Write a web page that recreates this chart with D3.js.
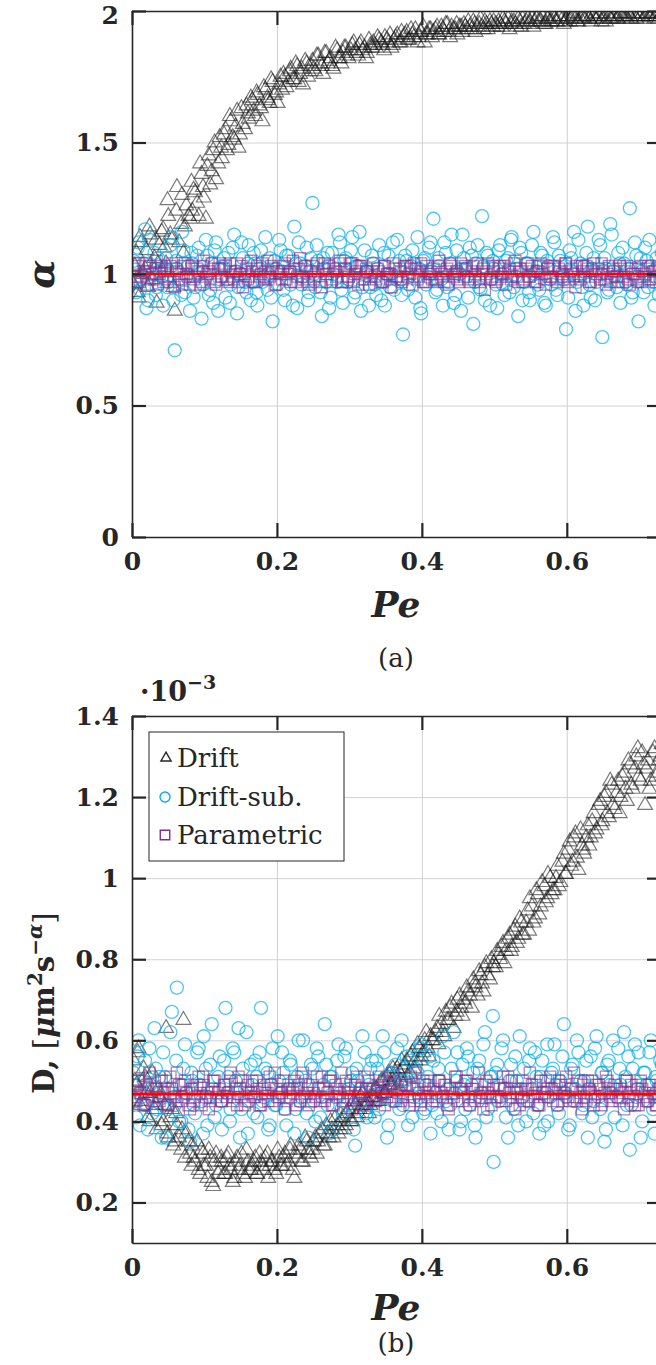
<!DOCTYPE html>
<html>
<head>
<meta charset="utf-8">
<style>
    body {
        margin: 0;
        background-color: #fff;
    }
    text {
        font-family: "DejaVu Serif", serif;
        fill: #262626;
    }
    .tick text {
        font-size: 25px;
        font-weight: bold;
    }
</style>
</head>
<body>
<script src="https://d3js.org/d3.v7.min.js"></script>
<script>
    // Peclet number of each run (shared by both panels), two batches of runs
    var pe = [
        0.002, 0.006, 0.009, 0.013, 0.018, 0.022, 0.025, 0.031, 0.034, 0.038,
        0.043, 0.047, 0.050, 0.055, 0.059, 0.062, 0.068, 0.071, 0.075, 0.080,
        0.083, 0.087, 0.092, 0.096, 0.099, 0.104, 0.108, 0.112, 0.116, 0.121,
        0.124, 0.129, 0.133, 0.136, 0.141, 0.145, 0.149, 0.153, 0.158, 0.161,
        0.166, 0.170, 0.173, 0.178, 0.182, 0.187, 0.190, 0.194, 0.199, 0.203,
        0.207, 0.211, 0.216, 0.219, 0.224, 0.228, 0.232, 0.236, 0.241, 0.244,
        0.249, 0.253, 0.257, 0.262, 0.266, 0.270, 0.274, 0.278, 0.283, 0.287,
        0.291, 0.295, 0.299, 0.304, 0.308, 0.312, 0.316, 0.321, 0.324, 0.329,
        0.333, 0.337, 0.341, 0.346, 0.349, 0.354, 0.358, 0.362, 0.366, 0.371,
        0.374, 0.379, 0.383, 0.387, 0.391, 0.396, 0.399, 0.404, 0.408, 0.412,
        0.416, 0.421, 0.424, 0.429, 0.433, 0.437, 0.441, 0.446, 0.449, 0.454,
        0.458, 0.462, 0.466, 0.471, 0.474, 0.479, 0.483, 0.487, 0.491, 0.496,
        0.499, 0.504, 0.508, 0.512, 0.516, 0.521, 0.524, 0.529, 0.533, 0.537,
        0.541, 0.546, 0.549, 0.554, 0.558, 0.562, 0.566, 0.571, 0.574, 0.579,
        0.583, 0.587, 0.591, 0.596, 0.599, 0.604, 0.608, 0.612, 0.616, 0.621,
        0.624, 0.629, 0.633, 0.637, 0.641, 0.646, 0.649, 0.654, 0.658, 0.662,
        0.666, 0.671, 0.674, 0.679, 0.683, 0.687, 0.691, 0.696, 0.699, 0.704,
        0.708, 0.712, 0.716, 0.721, 0.724, 0.729,
        0.004, 0.008, 0.011, 0.016, 0.020, 0.024, 0.028, 0.033, 0.036, 0.041,
        0.045, 0.049, 0.053, 0.057, 0.061, 0.065, 0.069, 0.073, 0.078, 0.082,
        0.085, 0.090, 0.094, 0.098, 0.102, 0.106, 0.110, 0.114, 0.119, 0.123,
        0.127, 0.131, 0.135, 0.139, 0.143, 0.147, 0.151, 0.156, 0.160, 0.164,
        0.168, 0.172, 0.176, 0.180, 0.184, 0.188, 0.192, 0.197, 0.201, 0.205,
        0.209, 0.213, 0.218, 0.222, 0.226, 0.230, 0.234, 0.239, 0.243, 0.247,
        0.251, 0.255, 0.260, 0.264, 0.268, 0.272, 0.276, 0.281, 0.285, 0.289,
        0.293, 0.297, 0.302, 0.306, 0.310, 0.314, 0.318, 0.323, 0.327, 0.331,
        0.335, 0.339, 0.344, 0.348, 0.352, 0.356, 0.360, 0.364, 0.369, 0.372,
        0.377, 0.381, 0.385, 0.389, 0.394, 0.398, 0.402, 0.406, 0.410, 0.414,
        0.419, 0.423, 0.427, 0.431, 0.435, 0.439, 0.444, 0.448, 0.452, 0.456,
        0.460, 0.464, 0.469, 0.473, 0.477, 0.481, 0.485, 0.489, 0.494, 0.498,
        0.502, 0.506, 0.510, 0.514, 0.519, 0.523, 0.527, 0.531, 0.535, 0.539,
        0.544, 0.548, 0.552, 0.556, 0.560, 0.564, 0.569, 0.573, 0.577, 0.581,
        0.585, 0.589, 0.594, 0.598, 0.602, 0.606, 0.610, 0.614, 0.619, 0.623,
        0.627, 0.631, 0.635, 0.639, 0.644, 0.648, 0.652, 0.656, 0.660, 0.664,
        0.669, 0.673, 0.677, 0.681, 0.685, 0.689, 0.694, 0.698, 0.702, 0.706,
        0.710, 0.714, 0.719, 0.723, 0.727, 0.731
    ];

    // (a) anomalous exponent alpha
    var alphaDrift = [
        0.96, 1.08, 0.91, 1.12, 1.02, 0.95, 1.15, 1.06, 0.89, 1.11,
        1.17, 1.04, 1.22, 1.13, 0.86, 1.33, 1.19, 1.08, 1.26, 1.21,
        1.24, 1.31, 1.22, 1.38, 1.29, 1.41, 1.34, 1.47, 1.36, 1.52,
        1.44, 1.55, 1.49, 1.58, 1.51, 1.62, 1.53, 1.57, 1.64, 1.59,
        1.66, 1.60, 1.68, 1.63, 1.71, 1.67, 1.65, 1.73, 1.69, 1.72,
        1.70, 1.75, 1.73, 1.78, 1.74, 1.79, 1.76, 1.72, 1.80, 1.77,
        1.81, 1.77, 1.83, 1.79, 1.84, 1.80, 1.82, 1.78, 1.85, 1.82,
        1.84, 1.86, 1.82, 1.87, 1.85, 1.83, 1.88, 1.86, 1.84, 1.87,
        1.88, 1.86, 1.89, 1.87, 1.90, 1.88, 1.86, 1.89, 1.91, 1.88,
        1.90, 1.92, 1.89, 1.91, 1.93, 1.90, 1.92, 1.88, 1.91, 1.93,
        1.92, 1.94, 1.91, 1.93, 1.95, 1.92, 1.94, 1.93, 1.91, 1.94,
        1.95, 1.93, 1.94, 1.96, 1.92, 1.95, 1.94, 1.96, 1.93, 1.95,
        1.96, 1.94, 1.95, 1.97, 1.95, 1.93, 1.96, 1.95, 1.97, 1.94,
        1.95, 1.97, 1.96, 1.94, 1.97, 1.96, 1.98, 1.95, 1.97, 1.96,
        1.97, 1.96, 1.98, 1.95, 1.97, 1.96, 1.98, 1.97, 1.96, 1.98,
        1.97, 1.98, 1.96, 1.98, 1.97, 1.99, 1.97, 1.96, 1.98, 1.97,
        1.98, 1.97, 1.99, 1.98, 1.97, 1.98, 1.99, 1.97, 1.98, 1.99,
        1.98, 1.99, 1.98, 1.97, 1.99, 1.98,
        1.03, 0.93, 1.14, 1.00, 1.09, 1.18, 0.98, 1.13, 1.04, 1.16,
        1.10, 1.28, 1.15, 0.95, 1.24, 1.12, 1.30, 1.18, 1.22, 1.35,
        1.32, 1.27, 1.42, 1.33, 1.21, 1.45, 1.39, 1.50, 1.42, 1.48,
        1.53, 1.47, 1.60, 1.52, 1.56, 1.48, 1.63, 1.55, 1.61, 1.67,
        1.62, 1.69, 1.64, 1.58, 1.70, 1.66, 1.74, 1.68, 1.65, 1.75,
        1.76, 1.71, 1.77, 1.74, 1.80, 1.73, 1.78, 1.81, 1.75, 1.79,
        1.78, 1.83, 1.80, 1.76, 1.84, 1.81, 1.79, 1.86, 1.82, 1.80,
        1.86, 1.83, 1.85, 1.88, 1.84, 1.87, 1.85, 1.82, 1.89, 1.86,
        1.87, 1.90, 1.88, 1.85, 1.89, 1.91, 1.87, 1.90, 1.88, 1.92,
        1.91, 1.89, 1.93, 1.90, 1.88, 1.92, 1.94, 1.91, 1.93, 1.90,
        1.93, 1.91, 1.94, 1.92, 1.95, 1.90, 1.93, 1.95, 1.94, 1.92,
        1.94, 1.96, 1.93, 1.95, 1.94, 1.97, 1.93, 1.95, 1.96, 1.94,
        1.95, 1.96, 1.94, 1.96, 1.97, 1.95, 1.96, 1.94, 1.96, 1.97,
        1.96, 1.95, 1.97, 1.96, 1.98, 1.96, 1.95, 1.97, 1.96, 1.98,
        1.96, 1.98, 1.97, 1.96, 1.98, 1.97, 1.99, 1.96, 1.97, 1.98,
        1.98, 1.97, 1.99, 1.97, 1.98, 1.96, 1.98, 1.99, 1.97, 1.98,
        1.97, 1.99, 1.98, 1.98, 1.99, 1.97, 1.98, 1.99, 1.98, 1.97,
        1.99, 1.98, 1.99, 1.98, 1.97, 1.99
    ];
    var alphaSub = [
        1.05, 0.93, 1.12, 0.98, 1.17, 0.90, 1.03, 1.08, 0.95, 1.01,
        0.88, 1.06, 0.97, 1.14, 0.71, 1.02, 0.92, 1.09, 0.99, 0.86,
        1.04, 0.95, 1.10, 0.83, 1.01, 1.07, 0.94, 0.89, 1.12, 0.98,
        1.03, 0.91, 1.08, 0.96, 1.15, 0.85, 1.00, 1.06, 0.93, 1.11,
        0.97, 1.04, 0.88, 1.09, 0.99, 0.94, 1.06, 0.82, 1.02, 1.13,
        1.01, 0.90, 1.07, 0.96, 1.18, 0.87, 1.04, 0.99, 1.10, 0.93,
        1.27, 0.95, 1.05, 0.84, 1.02, 1.08, 0.91, 1.00, 0.97, 1.12,
        0.89, 1.06, 0.98, 1.14, 0.93, 1.03, 0.86, 1.09, 1.01, 0.95,
        1.04, 0.92, 1.11, 0.97, 0.88, 1.07, 1.00, 0.94, 1.13, 0.98,
        0.77, 1.05, 0.96, 1.09, 0.91, 1.02, 0.85, 1.06, 0.99, 1.12,
        1.21, 0.94, 1.03, 0.88, 1.08, 0.97, 1.15, 0.92, 1.01, 0.86,
        1.06, 0.99, 1.10, 0.81, 1.04, 0.95, 1.22, 0.90, 1.07, 0.98,
        1.02, 0.87, 1.11, 0.96, 1.05, 0.93, 1.14, 0.99, 0.84, 1.08,
        0.97, 1.04, 0.90, 1.16, 1.01, 0.94, 1.07, 0.88, 1.03, 0.96,
        1.12, 0.92, 1.05, 0.98, 0.79, 1.09, 1.00, 0.86, 1.13, 0.95,
        1.03, 1.18, 0.91, 1.06, 0.97, 1.11, 0.76, 1.02, 0.94, 1.15,
        0.99, 1.08, 0.89, 1.04, 0.96, 1.25, 0.93, 1.07, 0.82, 1.01,
        1.10, 0.95, 1.03, 0.88, 1.06, 0.98,
        0.97, 1.10, 0.94, 1.04, 0.87, 1.13, 1.00, 0.92, 1.06, 0.99,
        1.02, 0.95, 1.11, 0.90, 1.05, 0.98, 1.16, 0.93, 1.03, 1.08,
        0.91, 1.07, 1.00, 0.96, 1.13, 0.92, 1.04, 1.09, 0.86, 1.02,
        1.06, 0.98, 0.89, 1.10, 1.01, 0.95, 1.12, 0.97, 1.04, 0.90,
        1.08, 0.93, 1.02, 0.97, 1.14, 1.00, 0.91, 1.05, 0.96, 1.09,
        0.94, 1.07, 1.01, 0.88, 1.04, 1.12, 0.96, 1.03, 0.90, 1.06,
        1.00, 1.11, 0.93, 1.06, 0.97, 0.87, 1.08, 1.02, 1.15, 0.94,
        1.05, 0.97, 1.09, 0.91, 1.03, 1.16, 0.95, 1.01, 0.88, 1.07,
        0.96, 1.02, 0.90, 1.08, 1.00, 0.95, 1.12, 0.98, 1.05, 0.92,
        1.07, 0.94, 1.03, 0.99, 1.14, 0.87, 1.05, 0.96, 1.10, 1.01,
        0.93, 1.06, 0.98, 1.12, 0.95, 1.04, 0.89, 1.09, 1.00, 1.15,
        1.02, 0.91, 1.07, 0.97, 1.11, 0.94, 1.03, 1.08, 0.88, 1.05,
        0.96, 1.09, 1.00, 0.92, 1.06, 1.13, 0.95, 1.02, 1.10, 0.90,
        1.04, 0.93, 1.11, 1.00, 0.96, 1.08, 0.89, 1.05, 0.98, 1.14,
        0.94, 1.07, 0.99, 1.03, 0.91, 1.06, 1.16, 0.97, 1.04, 0.88,
        1.08, 0.96, 1.02, 0.90, 1.13, 1.00, 1.06, 0.93, 1.19, 1.01,
        0.95, 1.04, 1.10, 0.97, 1.02, 0.91, 1.12, 0.99, 1.06, 0.93,
        1.05, 1.13, 0.97, 1.02, 0.92, 1.08
    ];
    var alphaParam = [
        1.02, 0.97, 1.04, 0.99, 1.01, 0.96, 1.03, 0.98, 1.05, 1.00,
        0.97, 1.02, 0.99, 1.04, 0.95, 1.01, 0.98, 1.03, 1.00, 0.96,
        1.03, 0.99, 1.01, 0.97, 1.05, 1.00, 0.98, 1.02, 0.96, 1.04,
        0.99, 1.03, 0.97, 1.01, 0.98, 1.04, 1.00, 0.95, 1.02, 0.99,
        1.01, 0.97, 1.03, 1.00, 0.98, 1.05, 0.99, 1.02, 0.96, 1.01,
        0.98, 1.04, 1.00, 0.97, 1.02, 0.99, 1.06, 0.98, 1.01, 0.96,
        1.03, 0.99, 1.01, 0.95, 1.04, 1.00, 0.97, 1.02, 0.99, 1.05,
        0.97, 1.02, 0.99, 1.04, 1.00, 0.96, 1.03, 0.98, 1.01, 0.99,
        1.04, 0.98, 1.01, 0.97, 1.03, 1.00, 0.95, 1.02, 0.99, 1.01,
        0.98, 1.03, 1.00, 0.96, 1.02, 0.99, 1.04, 0.97, 1.01, 1.00,
        1.02, 0.97, 1.05, 0.99, 1.01, 0.96, 1.03, 1.00, 0.98, 1.04,
        0.99, 1.02, 0.97, 1.03, 1.00, 0.98, 1.01, 0.94, 1.04, 0.99,
        1.01, 0.98, 1.03, 1.00, 0.96, 1.02, 0.99, 1.05, 0.97, 1.01,
        0.98, 1.04, 0.99, 1.01, 0.97, 1.03, 1.00, 0.96, 1.02, 0.99,
        1.03, 0.97, 1.01, 0.99, 1.04, 0.98, 1.02, 0.95, 1.00, 1.03,
        0.99, 1.02, 0.97, 1.04, 1.00, 0.98, 1.01, 0.96, 1.03, 0.99,
        1.01, 0.97, 1.02, 0.99, 1.03, 0.96, 1.00, 0.98, 1.02, 0.97,
        1.00, 1.03, 0.98, 1.01, 0.99, 1.02,
        0.99, 1.03, 0.97, 1.01, 1.04, 0.98, 1.00, 1.02, 0.96, 1.03,
        1.01, 0.98, 1.03, 0.97, 1.02, 1.00, 0.96, 1.04, 0.99, 1.02,
        0.98, 1.02, 0.96, 1.03, 0.99, 1.01, 1.04, 0.97, 1.02, 0.99,
        1.02, 0.98, 1.04, 0.99, 1.01, 0.97, 1.03, 1.00, 0.98, 1.05,
        0.97, 1.02, 0.99, 1.04, 1.01, 0.98, 1.03, 0.96, 1.01, 1.00,
        1.03, 0.98, 1.01, 1.05, 0.97, 1.02, 0.99, 1.03, 0.97, 1.01,
        0.98, 1.04, 0.97, 1.02, 1.00, 1.03, 0.98, 1.01, 1.04, 0.97,
        1.02, 0.99, 1.04, 0.97, 1.01, 1.03, 0.98, 1.02, 0.96, 1.01,
        0.99, 1.02, 0.97, 1.03, 1.00, 0.98, 1.04, 0.99, 1.02, 0.97,
        1.03, 0.99, 1.02, 1.04, 0.98, 1.01, 0.97, 1.03, 1.00, 0.98,
        0.98, 1.03, 1.00, 0.97, 1.02, 1.04, 0.99, 1.01, 0.97, 1.02,
        1.03, 0.98, 1.01, 0.99, 1.04, 0.97, 1.02, 1.00, 0.98, 1.03,
        0.97, 1.02, 0.99, 1.03, 1.01, 0.98, 1.04, 0.99, 1.02, 0.97,
        1.02, 0.99, 1.03, 0.97, 1.01, 1.04, 0.98, 1.02, 0.99, 1.03,
        0.98, 1.02, 1.00, 1.04, 0.97, 1.01, 0.99, 1.03, 0.98, 1.01,
        1.03, 0.97, 1.01, 0.99, 1.02, 1.04, 0.98, 1.00, 0.97, 1.02,
        0.99, 1.03, 0.97, 1.01, 0.98, 1.02, 1.00, 0.97, 1.03, 0.99,
        1.02, 0.98, 1.01, 0.97, 1.03, 1.00
    ];

    // (b) diffusion coefficient, in units of 1e-3
    var dDrift = [
        0.55, 0.49, 0.58, 0.45, 0.51, 0.41, 0.47, 0.43, 0.38, 0.46,
        0.40, 0.63, 0.36, 0.43, 0.35, 0.39, 0.33, 0.65, 0.37, 0.32,
        0.34, 0.30, 0.28, 0.33, 0.29, 0.26, 0.31, 0.24, 0.32, 0.28,
        0.30, 0.27, 0.32, 0.28, 0.26, 0.31, 0.29, 0.27, 0.33, 0.28,
        0.29, 0.31, 0.27, 0.30, 0.28, 0.32, 0.29, 0.30, 0.27, 0.31,
        0.29, 0.32, 0.30, 0.34, 0.26, 0.31, 0.33, 0.30, 0.35, 0.32,
        0.33, 0.36, 0.35, 0.38, 0.34, 0.37, 0.40, 0.36, 0.39, 0.38,
        0.41, 0.39, 0.43, 0.40, 0.44, 0.42, 0.46, 0.43, 0.45, 0.44,
        0.46, 0.48, 0.45, 0.50, 0.47, 0.52, 0.49, 0.51, 0.53, 0.50,
        0.53, 0.55, 0.52, 0.57, 0.55, 0.58, 0.56, 0.60, 0.58, 0.61,
        0.60, 0.63, 0.66, 0.62, 0.67, 0.65, 0.69, 0.66, 0.70, 0.68,
        0.70, 0.73, 0.71, 0.75, 0.73, 0.77, 0.74, 0.78, 0.76, 0.80,
        0.79, 0.82, 0.80, 0.84, 0.82, 0.86, 0.83, 0.88, 0.85, 0.89,
        0.86, 0.92, 0.95, 0.89, 0.97, 0.91, 0.99, 0.94, 1.01, 0.96,
        0.97, 1.03, 0.99, 1.06, 1.01, 1.09, 1.04, 1.11, 1.02, 1.08,
        1.06, 1.13, 1.10, 1.16, 1.12, 1.19, 1.14, 1.21, 1.15, 1.23,
        1.17, 1.24, 1.20, 1.26, 1.19, 1.28, 1.22, 1.30, 1.25, 1.31,
        1.18, 1.29, 1.24, 1.32, 1.26, 1.30,
        0.50, 0.57, 0.44, 0.53, 0.47, 0.40, 0.52, 0.44, 0.48, 0.39,
        0.44, 0.37, 0.41, 0.34, 0.42, 0.36, 0.38, 0.31, 0.35, 0.29,
        0.31, 0.35, 0.27, 0.32, 0.29, 0.33, 0.25, 0.30, 0.27, 0.31,
        0.27, 0.31, 0.29, 0.25, 0.30, 0.28, 0.32, 0.26, 0.30, 0.28,
        0.30, 0.27, 0.32, 0.29, 0.31, 0.26, 0.30, 0.28, 0.33, 0.29,
        0.31, 0.29, 0.33, 0.28, 0.32, 0.34, 0.30, 0.36, 0.33, 0.31,
        0.35, 0.32, 0.37, 0.34, 0.39, 0.36, 0.38, 0.41, 0.37, 0.40,
        0.38, 0.42, 0.40, 0.45, 0.41, 0.43, 0.47, 0.44, 0.42, 0.46,
        0.48, 0.45, 0.50, 0.47, 0.51, 0.49, 0.53, 0.48, 0.52, 0.55,
        0.54, 0.51, 0.56, 0.53, 0.59, 0.55, 0.57, 0.62, 0.56, 0.60,
        0.62, 0.59, 0.64, 0.61, 0.65, 0.68, 0.63, 0.67, 0.71, 0.66,
        0.69, 0.72, 0.68, 0.74, 0.71, 0.76, 0.72, 0.79, 0.75, 0.78,
        0.78, 0.81, 0.83, 0.79, 0.85, 0.82, 0.87, 0.84, 0.90, 0.86,
        0.89, 0.87, 0.93, 0.90, 0.96, 0.93, 0.98, 0.95, 1.00, 0.97,
        1.00, 0.98, 1.04, 1.01, 1.07, 1.03, 1.10, 1.05, 1.12, 1.07,
        1.10, 1.08, 1.14, 1.11, 1.18, 1.13, 1.20, 1.16, 1.24, 1.18,
        1.21, 1.16, 1.25, 1.22, 1.29, 1.23, 1.27, 1.32, 1.24, 1.28,
        1.27, 1.22, 1.31, 1.25, 1.29, 1.33
    ];
    var dSub = [
        0.52, 0.41, 0.60, 0.46, 0.55, 0.38, 0.49, 0.63, 0.43, 0.51,
        0.57, 0.36, 0.48, 0.67, 0.44, 0.73, 0.40, 0.53, 0.47, 0.35,
        0.50, 0.42, 0.58, 0.45, 0.61, 0.39, 0.54, 0.48, 0.44, 0.56,
        0.38, 0.68, 0.51, 0.43, 0.57, 0.47, 0.36, 0.53, 0.62, 0.45,
        0.49, 0.55, 0.41, 0.68, 0.46, 0.52, 0.39, 0.58, 0.44, 0.50,
        0.57, 0.43, 0.48, 0.54, 0.37, 0.51, 0.45, 0.60, 0.42, 0.49,
        0.53, 0.40, 0.56, 0.46, 0.64, 0.44, 0.51, 0.38, 0.55, 0.47,
        0.42, 0.58, 0.48, 0.52, 0.34, 0.50, 0.45, 0.57, 0.41, 0.53,
        0.48, 0.55, 0.43, 0.61, 0.47, 0.39, 0.52, 0.45, 0.58, 0.50,
        0.44, 0.56, 0.49, 0.41, 0.53, 0.46, 0.59, 0.43, 0.51, 0.37,
        0.55, 0.42, 0.50, 0.61, 0.45, 0.38, 0.53, 0.47, 0.57, 0.40,
        0.49, 0.58, 0.44, 0.52, 0.36, 0.55, 0.47, 0.62, 0.43, 0.51,
        0.30, 0.54, 0.46, 0.60, 0.41, 0.50, 0.44, 0.56, 0.39, 0.48,
        0.53, 0.45, 0.58, 0.42, 0.51, 0.37, 0.55, 0.47, 0.40, 0.52,
        0.59, 0.44, 0.50, 0.64, 0.46, 0.39, 0.54, 0.48, 0.57, 0.42,
        0.50, 0.36, 0.56, 0.45, 0.61, 0.43, 0.52, 0.38, 0.55, 0.47,
        0.41, 0.58, 0.49, 0.62, 0.44, 0.33, 0.53, 0.46, 0.57, 0.40,
        0.52, 0.45, 0.60, 0.37, 0.50, 0.55,
        0.45, 0.56, 0.39, 0.50, 0.44, 0.58, 0.42, 0.53, 0.47, 0.36,
        0.51, 0.43, 0.62, 0.46, 0.55, 0.40, 0.49, 0.59, 0.38, 0.52,
        0.44, 0.57, 0.49, 0.37, 0.53, 0.46, 0.64, 0.41, 0.51, 0.45,
        0.55, 0.47, 0.40, 0.58, 0.50, 0.63, 0.43, 0.48, 0.37, 0.54,
        0.42, 0.51, 0.57, 0.45, 0.53, 0.38, 0.49, 0.44, 0.61, 0.47,
        0.52, 0.39, 0.55, 0.48, 0.43, 0.60, 0.46, 0.50, 0.36, 0.54,
        0.45, 0.58, 0.41, 0.49, 0.54, 0.37, 0.51, 0.46, 0.59, 0.43,
        0.56, 0.44, 0.50, 0.38, 0.53, 0.47, 0.61, 0.42, 0.49, 0.55,
        0.41, 0.53, 0.47, 0.57, 0.36, 0.51, 0.45, 0.54, 0.43, 0.60,
        0.50, 0.39, 0.55, 0.46, 0.52, 0.58, 0.42, 0.49, 0.56, 0.44,
        0.47, 0.53, 0.40, 0.57, 0.48, 0.44, 0.62, 0.50, 0.38, 0.54,
        0.43, 0.56, 0.49, 0.39, 0.53, 0.46, 0.59, 0.41, 0.51, 0.66,
        0.52, 0.45, 0.58, 0.48, 0.36, 0.54, 0.43, 0.50, 0.61, 0.46,
        0.40, 0.55, 0.48, 0.57, 0.44, 0.51, 0.39, 0.59, 0.46, 0.53,
        0.49, 0.42, 0.56, 0.47, 0.38, 0.53, 0.45, 0.60, 0.50, 0.44,
        0.55, 0.48, 0.41, 0.58, 0.46, 0.52, 0.35, 0.54, 0.49, 0.60,
        0.46, 0.53, 0.39, 0.51, 0.56, 0.44, 0.59, 0.48, 0.36, 0.52,
        0.49, 0.57, 0.43, 0.51, 0.46, 0.54
    ];
    var dParam = [
        0.49, 0.45, 0.50, 0.47, 0.44, 0.48, 0.51, 0.46, 0.48, 0.45,
        0.47, 0.50, 0.44, 0.48, 0.46, 0.52, 0.45, 0.49, 0.47, 0.43,
        0.48, 0.46, 0.51, 0.44, 0.49, 0.47, 0.45, 0.50, 0.46, 0.48,
        0.45, 0.49, 0.47, 0.52, 0.46, 0.44, 0.48, 0.50, 0.45, 0.47,
        0.50, 0.46, 0.48, 0.44, 0.49, 0.47, 0.51, 0.45, 0.48, 0.46,
        0.47, 0.43, 0.49, 0.46, 0.50, 0.48, 0.45, 0.52, 0.47, 0.44,
        0.49, 0.46, 0.48, 0.51, 0.45, 0.47, 0.50, 0.44, 0.48, 0.46,
        0.45, 0.50, 0.47, 0.43, 0.49, 0.46, 0.48, 0.51, 0.45, 0.48,
        0.48, 0.45, 0.51, 0.47, 0.44, 0.49, 0.46, 0.50, 0.48, 0.45,
        0.46, 0.49, 0.44, 0.48, 0.52, 0.47, 0.45, 0.49, 0.46, 0.50,
        0.48, 0.45, 0.50, 0.46, 0.49, 0.43, 0.47, 0.51, 0.45, 0.48,
        0.47, 0.50, 0.44, 0.48, 0.46, 0.52, 0.45, 0.49, 0.47, 0.44,
        0.49, 0.46, 0.48, 0.51, 0.45, 0.47, 0.50, 0.43, 0.48, 0.46,
        0.45, 0.48, 0.52, 0.46, 0.49, 0.44, 0.47, 0.50, 0.46, 0.48,
        0.48, 0.44, 0.49, 0.47, 0.51, 0.45, 0.48, 0.46, 0.50, 0.43,
        0.46, 0.50, 0.47, 0.44, 0.49, 0.48, 0.45, 0.51, 0.47, 0.45,
        0.49, 0.46, 0.48, 0.43, 0.50, 0.47, 0.45, 0.49, 0.44, 0.48,
        0.47, 0.45, 0.49, 0.46, 0.44, 0.48,
        0.46, 0.50, 0.47, 0.44, 0.49, 0.52, 0.45, 0.48, 0.46, 0.50,
        0.48, 0.44, 0.51, 0.47, 0.45, 0.49, 0.46, 0.50, 0.44, 0.48,
        0.45, 0.49, 0.47, 0.51, 0.46, 0.43, 0.48, 0.50, 0.47, 0.45,
        0.49, 0.46, 0.50, 0.45, 0.48, 0.51, 0.46, 0.44, 0.49, 0.47,
        0.46, 0.50, 0.44, 0.48, 0.47, 0.45, 0.49, 0.52, 0.46, 0.48,
        0.50, 0.45, 0.48, 0.47, 0.44, 0.49, 0.51, 0.46, 0.48, 0.45,
        0.47, 0.51, 0.45, 0.48, 0.46, 0.50, 0.44, 0.49, 0.47, 0.52,
        0.48, 0.46, 0.49, 0.45, 0.51, 0.47, 0.44, 0.48, 0.50, 0.46,
        0.45, 0.49, 0.47, 0.50, 0.46, 0.48, 0.52, 0.45, 0.47, 0.49,
        0.49, 0.46, 0.51, 0.45, 0.48, 0.44, 0.50, 0.47, 0.49, 0.45,
        0.46, 0.50, 0.47, 0.49, 0.44, 0.48, 0.46, 0.51, 0.48, 0.45,
        0.50, 0.46, 0.48, 0.45, 0.49, 0.47, 0.43, 0.50, 0.46, 0.48,
        0.46, 0.49, 0.45, 0.48, 0.51, 0.46, 0.48, 0.47, 0.44, 0.50,
        0.48, 0.45, 0.49, 0.47, 0.44, 0.50, 0.46, 0.48, 0.51, 0.45,
        0.47, 0.50, 0.45, 0.49, 0.46, 0.48, 0.52, 0.45, 0.47, 0.49,
        0.45, 0.48, 0.50, 0.46, 0.49, 0.44, 0.47, 0.50, 0.46, 0.48,
        0.48, 0.45, 0.47, 0.50, 0.46, 0.49, 0.44, 0.48, 0.50, 0.46,
        0.45, 0.49, 0.47, 0.44, 0.48, 0.46
    ];

    // reference (true) values drawn as red lines
    var alphaTrue = 1;
    var dTrue = 0.468;

    // ticks and legend
    var xTicks = [0, 0.2, 0.4, 0.6];
    var alphaTicks = [0, 0.5, 1, 1.5, 2];
    var dTicks = [0.2, 0.4, 0.6, 0.8, 1, 1.2, 1.4];
    var legendNames = ["Drift", "Drift-sub.", "Parametric"];

    var w = 656;
    var h = 1365;
    var ink = "#262626";
    var triColor = "#1a1a1a";
    var subColor = "#00AEEF";
    var parColor = "#7E2F8E";

    var svg = d3.select("body")
        .append("svg")
        .attr("width", w)
        .attr("height", h);

    var x = d3.scaleLinear()
        .domain([0, 0.73])
        .range([132, 661]);

    var tri = d3.symbol().type(d3.symbolTriangle).size(95);
    var sq = d3.symbol().type(d3.symbolSquare).size(125);

    function drawPanel(id, top, bottom, yDomain, yTicks, drift, sub, param, truth) {
        var y = d3.scaleLinear()
            .domain(yDomain)
            .range([bottom, top]);

        // grid
        svg.append("g")
            .attr("transform", "translate(0," + bottom + ")")
            .call(d3.axisBottom(x).tickValues(xTicks.slice(1)).tickSize(-(bottom - top)).tickFormat(""))
            .call(function (g) { g.select(".domain").remove(); })
            .selectAll("line").attr("stroke", "#d2d2d2").attr("stroke-width", 1);
        svg.append("g")
            .attr("transform", "translate(132,0)")
            .call(d3.axisLeft(y).tickValues(yTicks).tickSize(-(661 - 132)).tickFormat(""))
            .call(function (g) { g.select(".domain").remove(); })
            .selectAll("line").attr("stroke", "#d2d2d2").attr("stroke-width", 1);

        svg.append("clipPath")
            .attr("id", "clip" + id)
            .append("rect")
            .attr("x", 132).attr("y", top)
            .attr("width", 661 - 132).attr("height", bottom - top);

        var rows = pe.map(function (p, i) {
            return { pe: p, drift: drift[i], sub: sub[i], param: param[i] };
        });

        var plot = svg.append("g").attr("clip-path", "url(#clip" + id + ")");

        // Drift: triangles
        plot.append("g")
            .selectAll("path")
            .data(rows)
            .enter()
            .append("path")
            .attr("d", tri)
            .attr("transform", function (d) { return "translate(" + x(d.pe) + "," + y(d.drift) + ")"; })
            .attr("fill", "none")
            .attr("stroke", triColor)
            .attr("stroke-opacity", 0.58)
            .attr("stroke-width", 1.2);

        // Drift-subtracted: circles
        plot.append("g")
            .selectAll("circle")
            .data(rows)
            .enter()
            .append("circle")
            .attr("cx", function (d) { return x(d.pe); })
            .attr("cy", function (d) { return y(d.sub); })
            .attr("r", 6.5)
            .attr("fill", "none")
            .attr("stroke", subColor)
            .attr("stroke-opacity", 0.7)
            .attr("stroke-width", 1.3);

        // Parametric: squares
        plot.append("g")
            .selectAll("path")
            .data(rows)
            .enter()
            .append("path")
            .attr("d", sq)
            .attr("transform", function (d) { return "translate(" + x(d.pe) + "," + y(d.param) + ")"; })
            .attr("fill", "none")
            .attr("stroke", parColor)
            .attr("stroke-opacity", 0.6)
            .attr("stroke-width", 1.3);

        // true value
        plot.append("line")
            .attr("x1", x(0)).attr("x2", x(0.73))
            .attr("y1", y(truth)).attr("y2", y(truth))
            .attr("stroke", "#ff0000")
            .attr("stroke-width", 2.6);

        // axes box with inward ticks
        var axes = [
            svg.append("g").attr("transform", "translate(0," + bottom + ")")
                .call(d3.axisBottom(x).tickValues(xTicks).tickSize(-14).tickSizeOuter(0).tickPadding(15).tickFormat(String)),
            svg.append("g").attr("transform", "translate(132,0)")
                .call(d3.axisLeft(y).tickValues(yTicks).tickSize(-14).tickSizeOuter(0).tickPadding(13).tickFormat(String)),
            svg.append("g").attr("transform", "translate(0," + top + ")")
                .call(d3.axisTop(x).tickValues(xTicks).tickSize(-14).tickSizeOuter(0).tickFormat("")),
            svg.append("g").attr("transform", "translate(661,0)")
                .call(d3.axisRight(y).tickValues(yTicks).tickSize(-14).tickSizeOuter(0).tickFormat(""))
        ];
        axes.forEach(function (g) {
            g.select(".domain").attr("stroke", ink).attr("stroke-width", 1.6);
            g.selectAll(".tick line").attr("stroke", ink).attr("stroke-width", 2.2);
        });
        // keep the topmost label inside the picture
        axes[1].selectAll(".tick text")
            .filter(function (d) { return y(d) < 20; })
            .attr("dy", "0.5em");

        return y;
    }

    drawPanel("a", 11, 537, [0, 2], alphaTicks, alphaDrift, alphaSub, alphaParam, alphaTrue);
    drawPanel("b", 716, 1243, [0.1, 1.4], dTicks, dDrift, dSub, dParam, dTrue);

    // axis labels, panel (a)
    svg.append("text")
        .attr("transform", "translate(54,274) rotate(-90)")
        .attr("text-anchor", "middle")
        .attr("font-size", "38px")
        .attr("font-weight", "bold")
        .attr("font-style", "italic")
        .text("α");
    svg.append("text")
        .attr("x", 396).attr("y", 617)
        .attr("text-anchor", "middle")
        .attr("font-size", "36px")
        .attr("font-weight", "bold")
        .attr("font-style", "italic")
        .text("Pe");
    svg.append("text")
        .attr("x", 396).attr("y", 667)
        .attr("text-anchor", "middle")
        .attr("font-size", "26px")
        .text("(a)");

    // axis labels, panel (b)
    var dLab = svg.append("text")
        .attr("transform", "translate(54,1003) rotate(-90)")
        .attr("text-anchor", "middle")
        .attr("font-size", "29px")
        .attr("font-weight", "bold");
    dLab.append("tspan").text("D, ");
    dLab.append("tspan").attr("font-weight", "normal").text("[");
    dLab.append("tspan").attr("font-style", "italic").text("μ");
    dLab.append("tspan").text("m");
    dLab.append("tspan").attr("dy", -12).attr("font-size", "20px").text("2");
    dLab.append("tspan").attr("dy", 12).text("s");
    dLab.append("tspan").attr("dy", -12).attr("font-size", "20px").text("−");
    dLab.append("tspan").attr("font-size", "20px").attr("font-style", "italic").text("α");
    dLab.append("tspan").attr("dy", 12).attr("font-weight", "normal").text("]");

    svg.append("text")
        .attr("x", 396).attr("y", 1320)
        .attr("text-anchor", "middle")
        .attr("font-size", "36px")
        .attr("font-weight", "bold")
        .attr("font-style", "italic")
        .text("Pe");
    svg.append("text")
        .attr("x", 396).attr("y", 1352)
        .attr("text-anchor", "middle")
        .attr("font-size", "26px")
        .text("(b)");

    // exponent above panel (b)
    var expo = svg.append("text")
        .attr("x", 140).attr("y", 701)
        .attr("font-size", "27px")
        .attr("font-weight", "bold");
    expo.append("tspan").text("·10");
    expo.append("tspan").attr("dy", -12).attr("font-size", "19px").text("−3");

    // legend
    var legend = svg.append("g");
    legend.append("rect")
        .attr("x", 149).attr("y", 732)
        .attr("width", 195).attr("height", 129)
        .attr("fill", "#fff")
        .attr("stroke", ink)
        .attr("stroke-width", 1);
    var ly = [758, 797, 835];
    legend.append("path")
        .attr("d", d3.symbol().type(d3.symbolTriangle).size(45))
        .attr("transform", "translate(166," + ly[0] + ")")
        .attr("fill", "none").attr("stroke", ink).attr("stroke-width", 1.4);
    legend.append("circle")
        .attr("cx", 165).attr("cy", ly[1]).attr("r", 5)
        .attr("fill", "none").attr("stroke", subColor).attr("stroke-width", 1.4);
    legend.append("path")
        .attr("d", d3.symbol().type(d3.symbolSquare).size(90))
        .attr("transform", "translate(165," + ly[2] + ")")
        .attr("fill", "none").attr("stroke", parColor).attr("stroke-width", 1.4);
    legend.selectAll("text.lab")
        .data(legendNames)
        .enter()
        .append("text")
        .attr("class", "lab")
        .attr("x", 177)
        .attr("y", function (d, i) { return ly[i] + 9; })
        .attr("font-size", "26px")
        .text(function (d) { return d; });
</script>
</body>
</html>
